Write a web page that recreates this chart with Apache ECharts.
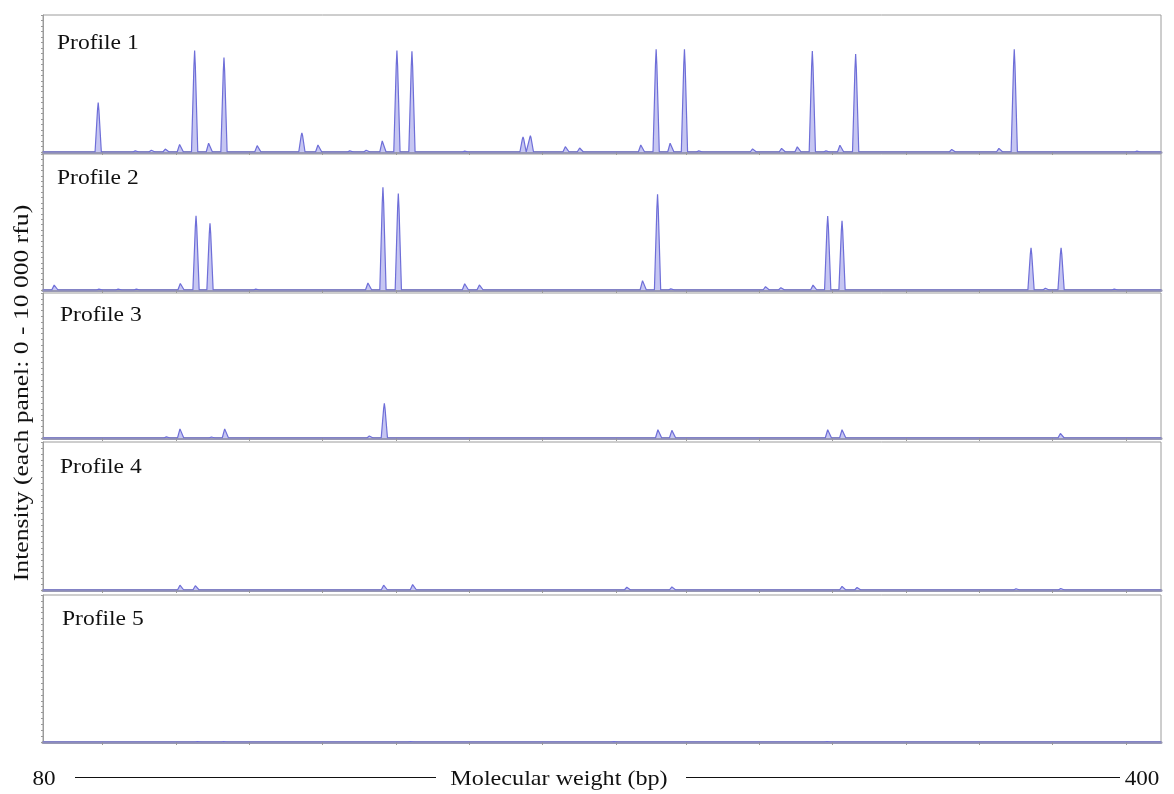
<!DOCTYPE html>
<html>
<head>
<meta charset="utf-8">
<script src="https://cdn.jsdelivr.net/npm/echarts@6/dist/echarts.min.js"></script>
<style>html,body{margin:0;padding:0;background:#fff}#c{width:1174px;height:794px}</style>
</head>
<body>
<div id="c"></div>
<script>
// ---- data (molecular weight in bp, intensity in rfu) ----
const xMin = 80, xMax = 400;
const yMax = 10000;
const profileNames = ['Profile 1', 'Profile 2', 'Profile 3', 'Profile 4', 'Profile 5'];
const xTicks = [97, 118, 139, 160, 181, 202, 223, 244, 264, 285, 306, 327, 348, 369, 390];

const p1Pos = [95.8, 106.6, 111.2, 115.2, 119.3, 123.4, 127.6, 131.8, 141.5, 154.1, 158.9, 168.0, 172.7, 177.3, 181.3, 185.6, 200.9, 217.4, 219.5, 229.7, 233.8, 251.3, 255.5, 259.7, 263.6, 267.9, 283.3, 291.6, 296.1, 300.2, 304.3, 308.3, 312.6, 340.3, 353.8, 358.0, 393.3];
const p1Val = [3600, 100, 150, 250, 650, 7400, 750, 6900, 550, 1400, 600, 100, 150, 950, 7400, 7350, 80, 1100, 1200, 460, 340, 600, 7500, 750, 7500, 100, 270, 310, 440, 7370, 100, 580, 7150, 220, 310, 7500, 80];

const p2Pos = [83.4, 96.2, 101.7, 106.9, 119.5, 123.8, 127.8, 141.1, 173.2, 177.3, 181.7, 200.9, 205.1, 251.8, 255.9, 259.9, 287.0, 291.4, 300.6, 304.6, 308.7, 362.8, 367.1, 371.4, 386.8];
const p2Val = [420, 80, 80, 80, 560, 5460, 4900, 80, 610, 7550, 7100, 540, 440, 810, 7030, 100, 290, 200, 420, 5440, 5090, 3110, 150, 3110, 80];

const p3Pos = [115.5, 119.4, 128.4, 132.2, 173.6, 177.7, 256.2, 260.2, 304.8, 308.9, 371.4];
const p3Val = [90, 740, 80, 740, 160, 2390, 670, 620, 670, 670, 370];

const p4Pos = [119.4, 123.8, 177.7, 186.0, 247.3, 260.2, 308.9, 313.2, 358.7, 371.5];
const p4Val = [385, 340, 385, 430, 220, 250, 290, 200, 100, 120];

const p5Pos = [124.4, 131.9, 185.4, 243.6, 304.6];
const p5Val = [40, 40, 40, 30, 40];

const positions = [p1Pos, p2Pos, p3Pos, p4Pos, p5Pos];
const values = [p1Val, p2Val, p3Val, p4Val, p5Val];

// ---- layout / style ----
const panels = [
  {top: 15, height: 137, labelY: 50, labelX: 57},
  {top: 154, height: 136, labelY: 185, labelX: 57},
  {top: 293, height: 145, labelY: 322, labelX: 60},
  {top: 442, height: 148, labelY: 474, labelX: 60},
  {top: 595, height: 147, labelY: 626, labelX: 62}
];
// peak outline template (offset in bp, fraction of peak height)
const shapeDx = [-0.9, -0.2, 0, 0.2, 0.9];
const shapeFy = [0, 0.85, 1, 0.85, 0];
const serif = '"Liberation Serif", "DejaVu Serif", serif';

function trace(pos, val) {
  const pts = [[xMin, 0]];
  const order = pos.map((p, i) => i).sort((a, b) => pos[a] - pos[b]);
  order.forEach(i => {
    shapeDx.forEach((d, k) => pts.push([pos[i] + d, val[i] * shapeFy[k]]));
  });
  pts.push([xMax, 0]);
  return pts;
}

const grids = [], xAxes = [], yAxes = [], series = [], labels = [];
panels.forEach((p, i) => {
  grids.push({left: 43, width: 1118, top: p.top, height: p.height,
    show: true, borderColor: '#9c9c9c', borderWidth: 1, backgroundColor: '#fff'});
  xAxes.push({type: 'value', gridIndex: i, min: xMin, max: xMax, position: 'bottom',
    axisLine: {show: true, onZero: false, lineStyle: {color: '#9898b4', width: 3}},
    axisTick: {show: true, customValues: xTicks, length: 3, inside: false, lineStyle: {color: '#999'}},
    axisLabel: {show: false}, splitLine: {show: false}});
  xAxes.push({type: 'value', gridIndex: i, min: xMin, max: xMax, position: 'top',
    axisLine: {show: false},
    axisTick: {show: true, customValues: xTicks, length: 3, inside: true, lineStyle: {color: '#999'}},
    axisLabel: {show: false}, splitLine: {show: false}});
  yAxes.push({type: 'value', gridIndex: i, min: 0, max: yMax, interval: 400,
    axisLine: {show: true, lineStyle: {color: '#9c9c9c', width: 1}},
    axisTick: {show: true, length: 2, lineStyle: {color: '#9a9a9a'}},
    axisLabel: {show: false}, splitLine: {show: false}});
  series.push({type: 'line', xAxisIndex: i * 2, yAxisIndex: i,
    data: trace(positions[i], values[i]), showSymbol: false, symbol: 'none',
    lineStyle: {color: '#6e6ed8', width: 1.2},
    areaStyle: {color: '#c6c6f2', opacity: 1},
    animation: false, z: 3});
  labels.push({type: 'text', x: p.labelX, y: p.labelY - 18, scaleX: 1.07,
    style: {text: profileNames[i], font: '22px ' + serif, fill: '#111',
      textAlign: 'left', textVerticalAlign: 'top'}});
});

const chart = echarts.init(document.getElementById('c'), null, {renderer: 'canvas'});
chart.setOption({
  animation: false,
  backgroundColor: '#fff',
  grid: grids,
  xAxis: xAxes,
  yAxis: yAxes,
  series: series,
  graphic: labels.concat([
    {type: 'text', x: 22, y: 393, rotation: Math.PI / 2, scaleX: 1.22,
      style: {text: 'Intensity (each panel: 0 - 10 000 rfu)', font: '21px ' + serif,
        fill: '#111', textAlign: 'center', textVerticalAlign: 'middle'}},
    {type: 'text', x: 44, y: 779, scaleX: 1.1, style: {text: String(xMin), font: '21px ' + serif, fill: '#111', textAlign: 'center', textVerticalAlign: 'middle'}},
    {type: 'text', x: 1142, y: 779, scaleX: 1.1, style: {text: String(xMax), font: '21px ' + serif, fill: '#111', textAlign: 'center', textVerticalAlign: 'middle'}},
    {type: 'text', x: 559, y: 779, scaleX: 1.15, style: {text: 'Molecular weight (bp)', font: '21px ' + serif, fill: '#111', textAlign: 'center', textVerticalAlign: 'middle'}},
    {type: 'line', shape: {x1: 75, y1: 777.5, x2: 436, y2: 777.5}, style: {stroke: '#111', lineWidth: 1}},
    {type: 'line', shape: {x1: 686, y1: 777.5, x2: 1120, y2: 777.5}, style: {stroke: '#111', lineWidth: 1}}
  ])
});
</script>
</body>
</html>
